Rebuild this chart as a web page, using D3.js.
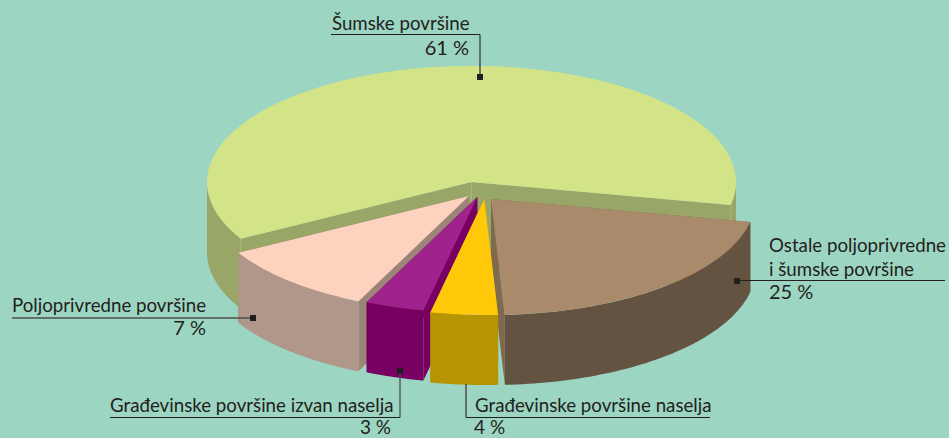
<!DOCTYPE html>
<html>
<head>
<meta charset="utf-8">
<script src="https://cdn.jsdelivr.net/npm/d3@7"></script>
<style>
html,body{margin:0;padding:0;background:#9cd5c2;overflow:hidden}
text{font-family:Lato,"Open Sans",sans-serif;font-size:18.7px;fill:#231f20}
text.pct{font-size:20px}
text.pctLow{font-size:19px}
</style>
</head>
<body>
<svg id="c" width="949" height="438"></svg>
<script>
// Categories and values
const categories = ["Šumske površine","Ostale poljoprivredne i šumske površine","Građevinske površine naselja","Građevinske površine izvan naselja","Poljoprivredne površine"];
const labelPercents = [61,25,4,3,7];
// Drawn share of each slice (the drawn pie differs from the printed labels)
const drawnShares = [61.3,21,4.1,3.6,10];
const topColors  = ["#d2e388","#a98b6b","#ffc90a","#a0228c","#fdd3bf"];
const wallColors = ["#98a667","#645340","#b79404","#780062","#b19789"];
const cutColors  = ["#98a667","#7f6a50","#b79404","#780062","#9c8578"];
// Exploded centre of each slice
const centerX = [471.5,491,484.3,477.3,469];
const centerY = [182,199,199,197,196];

const W=949,H=438, rx=264.5, ry=116, depth=70, startDeg=11.4+90;
const svg=d3.select("#c");
svg.append("rect").attr("width",W).attr("height",H).attr("fill","#9cd5c2");

const toRad=Math.PI/180;
const pie=d3.pie().sort(null).startAngle(startDeg*toRad).endAngle((startDeg+360)*toRad);
// clockwise from the right end of the green slice: brown, yellow, purple, pale, green
const order=[1,2,3,4,0];
const arcs=pie(order.map(i=>drawnShares[i]));
const slices=order.map((i,k)=>({i,a0:arcs[k].startAngle,a1:arcs[k].endAngle}));

const arcPath=d3.arc().innerRadius(0).outerRadius(1);
const px=(s,a)=>centerX[s.i]+rx*Math.sin(a);
const py=(s,a)=>centerY[s.i]-ry*Math.cos(a);
const line=d3.line();

function rimRanges(s){
  const out=[];
  for(let k=-1;k<=1;k++){
    const lo=Math.max(s.a0,Math.PI/2+k*2*Math.PI), hi=Math.min(s.a1,3*Math.PI/2+k*2*Math.PI);
    if(hi>lo) out.push([lo,hi]);
  }
  return out;
}
function drawSlice(s){
  const g=svg.append("g");
  const cx=centerX[s.i],cy=centerY[s.i];
  // cut faces
  [s.a1,s.a0].forEach(a=>{
    g.append("path").attr("fill",cutColors[s.i]).attr("d",line([[cx,cy],[px(s,a),py(s,a)],[px(s,a),py(s,a)+depth],[cx,cy+depth]])+"Z");
  });
  // outer wall
  rimRanges(s).forEach(([lo,hi])=>{
    const n=60, top=d3.range(n+1).map(j=>{const a=lo+(hi-lo)*j/n;return [px(s,a),py(s,a)];});
    const bot=top.map(p=>[p[0],p[1]+depth]).reverse();
    g.append("path").attr("fill",wallColors[s.i]).attr("d",line(top.concat(bot))+"Z");
  });
  // pale seams on the corners of the big slice
  if(s.i===0){
    const edges=[[cx,cy],[px(s,s.a0),py(s,s.a0)],[px(s,s.a1),py(s,s.a1)]];
    edges.forEach(p=>g.append("path").attr("fill","none").attr("stroke","#a9bb7c").attr("stroke-width",1)
      .attr("d",line([p,[p[0],p[1]+depth]])));
  }
  // top face
  g.append("path").attr("fill",topColors[s.i])
    .attr("transform",`translate(${cx},${cy}) scale(${rx},${ry})`)
    .attr("d",arcPath({startAngle:s.a0,endAngle:s.a1}));
}
// back to front
[0,4,1,3,2].forEach(idx=>drawSlice(slices.find(s=>s.i===idx)));

// Callouts
const ink="#231f20", soft="#4d4f4c";
function leader(pts,color,w){svg.append("path").attr("fill","none").attr("stroke",color||ink).attr("stroke-width",w||1.1).attr("d",line(pts));}
function dot(x,y){svg.append("rect").attr("x",x-3).attr("y",y-3).attr("width",6).attr("height",6).attr("fill",ink);}
function label(t,x,y,anchor,cls){svg.append("text").attr("x",x).attr("y",y).attr("text-anchor",anchor||"start").attr("class",cls||null).text(t);}

label(categories[0],332,30);
label(labelPercents[0]+" %",469,55,"end","pct");
leader([[331,34.5],[480,34.5]]);leader([[480,34.5],[480,77]],soft,1.5);dot(480,77);

label("Ostale poljoprivredne",769,252);
label("i šumske površine",769,276);
label(labelPercents[1]+" %",769,299,"start","pct");
leader([[737,280.5],[945,280.5]]);dot(737,281);

label(categories[4],12,312);
label(labelPercents[4]+" %",206,335,"end","pct");
leader([[12,318],[253,318]],soft,1.5);dot(253,318);

label(categories[3],110,411.5);
label(labelPercents[3]+" %",391,434,"end","pctLow");
leader([[110,417.5],[400,417.5]]);leader([[400,417.5],[400,371]],soft,1.3);dot(400,371);

label(categories[2],475,411.5);
label(labelPercents[2]+" %",474,434,"start","pctLow");
leader([[466,417.5],[710,417.5]]);leader([[466,384],[466,417.5]],soft,1.5);
</script>
</body>
</html>
